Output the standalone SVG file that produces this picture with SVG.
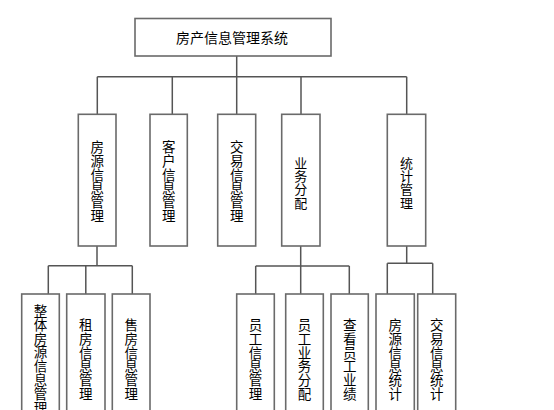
<svg xmlns="http://www.w3.org/2000/svg" width="554" height="410" viewBox="0 0 554 410">
<style>
.box{fill:#fff;stroke:#6a6a6a;stroke-width:1.6}
.ln{fill:none;stroke:#555;stroke-width:1.5}
text{font-family:"Noto Sans CJK SC","Liberation Sans",sans-serif;font-size:13.5px;fill:#000;text-anchor:middle}
.s{font-size:13px}
</style>
<rect width="554" height="410" fill="#fff"/>
<g id="connectors">
<path class="ln" d="M236.7 56V114.3M97.3 76.7H406.7M97.3 76.7V114.3M172.3 76.7V114.3M301 76.7V114.3M406.7 76.7V114.3"/>
<path class="ln" d="M97 246V265.7M48.3 265.7H132.3M48.3 265.7V294M85.8 265.7V294M132.3 265.7V294"/>
<path class="ln" d="M300.7 246V266M255.7 266H349.3M255.7 266V294M300.7 266V294M349.3 266V294"/>
<path class="ln" d="M406.7 246V263.3M387.3 263.3H432.7M387.3 263.3V294M432.7 263.3V294"/>
</g>
<g id="root"><rect class="box" x="135" y="18.5" width="196" height="37.5"/><text x="232" y="43" style="font-size:14px">房产信息管理系统</text></g>
<g id="n1"><rect class="box" x="78.3" y="114.3" width="37.7" height="131.7"/><text><tspan x="97.2" y="152">房</tspan><tspan x="97.2" dy="13.8">源</tspan><tspan x="97.2" dy="13.8">信</tspan><tspan x="97.2" dy="13.8">息</tspan><tspan x="97.2" dy="13.8">管</tspan><tspan x="97.2" dy="13.8">理</tspan></text></g>
<g id="n2"><rect class="box" x="150" y="114.3" width="37.3" height="131.7"/><text><tspan x="168.7" y="152">客</tspan><tspan x="168.7" dy="13.8">户</tspan><tspan x="168.7" dy="13.8">信</tspan><tspan x="168.7" dy="13.8">息</tspan><tspan x="168.7" dy="13.8">管</tspan><tspan x="168.7" dy="13.8">理</tspan></text></g>
<g id="n3"><rect class="box" x="217.7" y="114.3" width="38" height="131.7"/><text><tspan x="236.7" y="152">交</tspan><tspan x="236.7" dy="13.8">易</tspan><tspan x="236.7" dy="13.8">信</tspan><tspan x="236.7" dy="13.8">息</tspan><tspan x="236.7" dy="13.8">管</tspan><tspan x="236.7" dy="13.8">理</tspan></text></g>
<g id="n4"><rect class="box" x="281.7" y="114.3" width="38.3" height="131.7"/><text class="s"><tspan x="300.8" y="168">业</tspan><tspan x="300.8" dy="13.2">务</tspan><tspan x="300.8" dy="13.2">分</tspan><tspan x="300.8" dy="13.2">配</tspan></text></g>
<g id="n5"><rect class="box" x="387.3" y="114.3" width="38.4" height="131.7"/><text class="s"><tspan x="406.5" y="168">统</tspan><tspan x="406.5" dy="13.2">计</tspan><tspan x="406.5" dy="13.2">管</tspan><tspan x="406.5" dy="13.2">理</tspan></text></g>
<g id="n11"><rect class="box" x="21.7" y="294" width="37.6" height="134"/><text><tspan x="40.5" y="316">整</tspan><tspan x="40.5" dy="13.8">体</tspan><tspan x="40.5" dy="13.8">房</tspan><tspan x="40.5" dy="13.8">源</tspan><tspan x="40.5" dy="13.8">信</tspan><tspan x="40.5" dy="13.8">息</tspan><tspan x="40.5" dy="13.8">管</tspan><tspan x="40.5" dy="13.8">理</tspan></text></g>
<g id="n12"><rect class="box" x="66.7" y="294" width="38.3" height="134"/><text><tspan x="85.8" y="330">租</tspan><tspan x="85.8" dy="13.8">房</tspan><tspan x="85.8" dy="13.8">信</tspan><tspan x="85.8" dy="13.8">息</tspan><tspan x="85.8" dy="13.8">管</tspan><tspan x="85.8" dy="13.8">理</tspan></text></g>
<g id="n13"><rect class="box" x="112.3" y="294" width="37.7" height="134"/><text><tspan x="131.2" y="330">售</tspan><tspan x="131.2" dy="13.8">房</tspan><tspan x="131.2" dy="13.8">信</tspan><tspan x="131.2" dy="13.8">息</tspan><tspan x="131.2" dy="13.8">管</tspan><tspan x="131.2" dy="13.8">理</tspan></text></g>
<g id="n41"><rect class="box" x="236.7" y="294" width="37.6" height="134"/><text><tspan x="255.5" y="330">员</tspan><tspan x="255.5" dy="13.8">工</tspan><tspan x="255.5" dy="13.8">信</tspan><tspan x="255.5" dy="13.8">息</tspan><tspan x="255.5" dy="13.8">管</tspan><tspan x="255.5" dy="13.8">理</tspan></text></g>
<g id="n42"><rect class="box" x="285.7" y="294" width="37.6" height="134"/><text><tspan x="304.5" y="330">员</tspan><tspan x="304.5" dy="13.8">工</tspan><tspan x="304.5" dy="13.8">业</tspan><tspan x="304.5" dy="13.8">务</tspan><tspan x="304.5" dy="13.8">分</tspan><tspan x="304.5" dy="13.8">配</tspan></text></g>
<g id="n43"><rect class="box" x="331" y="294" width="37.3" height="134"/><text><tspan x="349.7" y="330">查</tspan><tspan x="349.7" dy="13.8">看</tspan><tspan x="349.7" dy="13.8">员</tspan><tspan x="349.7" dy="13.8">工</tspan><tspan x="349.7" dy="13.8">业</tspan><tspan x="349.7" dy="13.8">绩</tspan></text></g>
<g id="n51"><rect class="box" x="376" y="294" width="38.3" height="134"/><text><tspan x="395.2" y="330">房</tspan><tspan x="395.2" dy="13.8">源</tspan><tspan x="395.2" dy="13.8">信</tspan><tspan x="395.2" dy="13.8">息</tspan><tspan x="395.2" dy="13.8">统</tspan><tspan x="395.2" dy="13.8">计</tspan></text></g>
<g id="n52"><rect class="box" x="417.7" y="294" width="38" height="134"/><text><tspan x="436.7" y="330">交</tspan><tspan x="436.7" dy="13.8">易</tspan><tspan x="436.7" dy="13.8">信</tspan><tspan x="436.7" dy="13.8">息</tspan><tspan x="436.7" dy="13.8">统</tspan><tspan x="436.7" dy="13.8">计</tspan></text></g>
</svg>
